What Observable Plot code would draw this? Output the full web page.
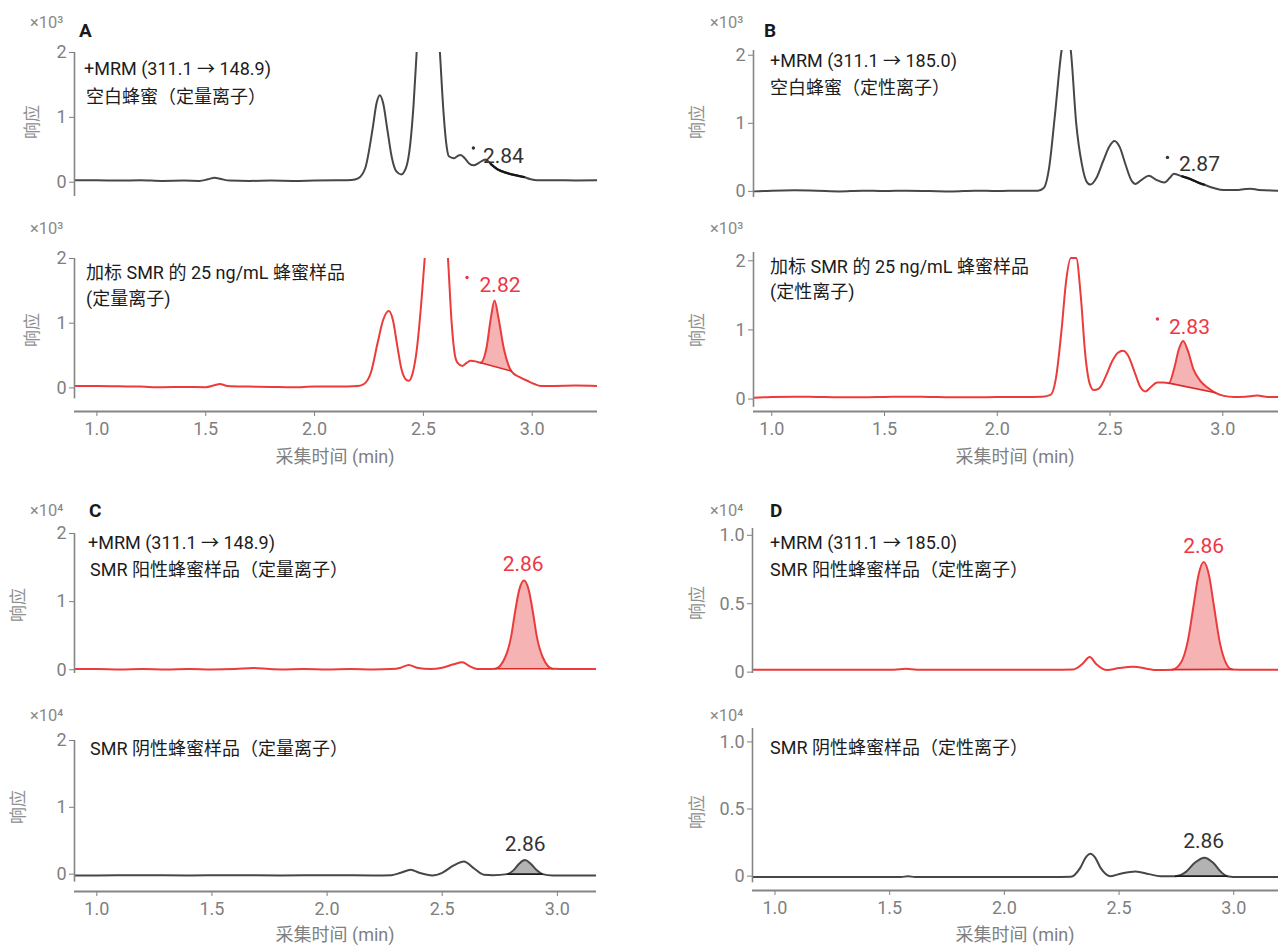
<!DOCTYPE html>
<html lang="zh">
<head>
<meta charset="utf-8">
<title>SMR 蜂蜜样品 MRM 色谱图</title>
<script src="https://cdn.jsdelivr.net/npm/d3@7"></script>
<script src="https://cdn.jsdelivr.net/npm/@observablehq/plot@0.6"></script>
<style>
html,body{margin:0;padding:0;background:#fff;}
#chart{position:relative;width:1280px;height:946px;overflow:hidden;font-family:Roboto,"Noto Sans CJK SC",sans-serif;}
.panel{position:absolute;}
.panel svg{display:block;max-width:none;}
.t{position:absolute;white-space:nowrap;line-height:1;transform:translateY(-50%);}
.note{font-size:18px;color:#1c1c1c;}
.mult{font-size:16.5px;color:#8a8a8a;}
.letter{font-size:19px;font-weight:700;color:#1a1a1a;}
.ylab{font-size:17px;color:#8f8f8f;transform:translate(-50%,-50%) rotate(-90deg);}
.xlab{font-size:18px;color:#808080;transform:translate(-50%,-50%);}
</style>
</head>
<body>
<div id="chart"></div>
<script>
// ---------- axis ticks & labels ----------
const xTicks = [1.0, 1.5, 2.0, 2.5, 3.0];
const xTickLabels = ["1.0", "1.5", "2.0", "2.5", "3.0"];
const yTicksAB = [0, 1, 2];
const yTickLabelsAB = ["0", "1", "2"];
const yTicksC = [0, 1, 2];
const yTickLabelsC = ["0", "1", "2"];
const yTicksD = [0, 0.5, 1.0];
const yTickLabelsD = ["0", "0.5", "1.0"];
const xAxisTitle = "采集时间 (min)";
const yAxisTitle = "响应";
const multipliers = ["×10³", "×10³", "×10⁴", "×10⁴"];
const panelLetters = ["A", "B", "C", "D"];

// ---------- x ranges (min) ----------
const xDomainA = [0.897, 3.30];
const xDomainB = [0.919, 3.247];
const xDomainC = [0.903, 3.17];
const xDomainD = [0.902, 3.195];

// ---------- traces [time (min), response] ----------
// A: +MRM 311.1 -> 148.9, ×10^3
const traceA1 = [[0.897,0.03],[0.95,0.03],[1.0,0.032],[1.1,0.025],[1.2,0.03],[1.3,0.02],[1.4,0.025],[1.47,0.02],[1.51,0.045],[1.54,0.07],[1.57,0.05],[1.61,0.025],[1.7,0.02],[1.8,0.025],[1.9,0.02],[2.0,0.025],[2.1,0.03],[2.17,0.035],[2.20,0.06],[2.233,0.22],[2.267,0.83],[2.285,1.22],[2.300,1.34],[2.315,1.22],[2.335,0.8],[2.355,0.38],[2.375,0.17],[2.398,0.12],[2.42,0.22],[2.44,0.6],[2.455,1.2],[2.469,2.0],[2.49,3.3],[2.52,4.0],[2.55,3.3],[2.576,2.0],[2.592,1.1],[2.605,0.6],[2.617,0.40],[2.640,0.37],[2.655,0.40],[2.671,0.42],[2.69,0.37],[2.71,0.29],[2.732,0.26],[2.755,0.30],[2.786,0.35],[2.81,0.28],[2.840,0.20],[2.886,0.14],[2.92,0.11],[2.962,0.08],[2.99,0.05],[3.023,0.03],[3.1,0.03],[3.2,0.028],[3.30,0.03]];
const traceA2 = [[0.897,0.03],[1.0,0.03],[1.1,0.025],[1.2,0.02],[1.3,0.01],[1.4,0.015],[1.5,0.01],[1.54,0.04],[1.565,0.06],[1.6,0.03],[1.7,0.02],[1.8,0.015],[1.9,0.01],[2.0,0.02],[2.1,0.02],[2.2,0.03],[2.227,0.06],[2.26,0.25],[2.29,0.7],[2.315,1.05],[2.341,1.19],[2.36,1.05],[2.38,0.65],[2.40,0.28],[2.42,0.13],[2.433,0.11],[2.45,0.22],[2.47,0.6],[2.49,1.3],[2.506,2.0],[2.53,3.0],[2.56,3.5],[2.59,3.0],[2.613,2.0],[2.63,1.0],[2.645,0.5],[2.656,0.39],[2.679,0.34],[2.70,0.39],[2.717,0.42],[2.74,0.41],[2.763,0.39],[2.79,0.62],[2.81,1.08],[2.827,1.35],[2.845,1.08],[2.87,0.6],[2.89,0.36],[2.904,0.26],[2.94,0.17],[2.977,0.11],[3.01,0.06],[3.039,0.03],[3.1,0.03],[3.2,0.035],[3.30,0.03]];
// B: +MRM 311.1 -> 185.0, ×10^3
const traceB1 = [[0.919,0.0],[1.0,0.01],[1.1,0.015],[1.2,0.01],[1.3,0.0],[1.4,0.01],[1.5,0.005],[1.6,0.01],[1.7,0.005],[1.8,0.0],[1.9,0.01],[2.0,0.005],[2.1,0.01],[2.18,0.01],[2.206,0.05],[2.23,0.35],[2.255,1.1],[2.285,2.07],[2.305,2.4],[2.326,2.07],[2.35,1.0],[2.375,0.4],[2.395,0.15],[2.413,0.10],[2.44,0.2],[2.47,0.45],[2.497,0.66],[2.520,0.74],[2.543,0.65],[2.57,0.38],[2.595,0.16],[2.613,0.11],[2.64,0.17],[2.672,0.23],[2.705,0.17],[2.741,0.13],[2.765,0.2],[2.783,0.26],[2.82,0.22],[2.857,0.18],[2.89,0.13],[2.916,0.10],[2.96,0.05],[3.004,0.02],[3.06,0.02],[3.1,0.035],[3.123,0.04],[3.16,0.02],[3.247,0.01]];
const traceB2 = [[0.919,0.02],[1.0,0.03],[1.1,0.035],[1.2,0.03],[1.3,0.025],[1.4,0.025],[1.5,0.03],[1.6,0.035],[1.7,0.03],[1.8,0.025],[1.9,0.025],[2.0,0.03],[2.1,0.03],[2.2,0.035],[2.236,0.06],[2.26,0.3],[2.285,1.0],[2.305,1.7],[2.326,2.04],[2.350,2.04],[2.37,1.5],[2.39,0.65],[2.41,0.22],[2.428,0.13],[2.45,0.15],[2.48,0.32],[2.51,0.55],[2.535,0.67],[2.558,0.70],[2.58,0.63],[2.61,0.38],[2.635,0.17],[2.657,0.11],[2.68,0.17],[2.709,0.24],[2.735,0.24],[2.761,0.23],[2.785,0.45],[2.805,0.72],[2.824,0.84],[2.845,0.7],[2.87,0.43],[2.901,0.26],[2.935,0.16],[2.968,0.09],[3.0,0.05],[3.05,0.03],[3.1,0.035],[3.153,0.05],[3.2,0.03],[3.247,0.03]];
// C: +MRM 311.1 -> 148.9, ×10^4
const traceC1 = [[0.903,0.01],[1.0,0.01],[1.1,0.005],[1.2,0.01],[1.3,0.005],[1.4,0.01],[1.5,0.005],[1.6,0.01],[1.68,0.025],[1.75,0.01],[1.8,0.005],[1.9,0.01],[2.0,0.005],[2.1,0.01],[2.2,0.005],[2.28,0.01],[2.32,0.03],[2.355,0.07],[2.39,0.03],[2.45,0.01],[2.5,0.03],[2.55,0.08],[2.587,0.11],[2.62,0.05],[2.652,0.01],[2.7,0.01],[2.73,0.015],[2.773,0.18],[2.80,0.5],[2.814,0.8],[2.835,1.18],[2.855,1.31],[2.875,1.18],[2.896,0.8],[2.91,0.5],[2.937,0.18],[2.98,0.015],[3.05,0.01],[3.1,0.01],[3.17,0.01]];
const traceC2 = [[0.903,-0.02],[1.0,-0.02],[1.2,-0.015],[1.4,-0.02],[1.6,-0.015],[1.8,-0.02],[2.0,-0.015],[2.2,-0.02],[2.28,-0.015],[2.32,0.02],[2.363,0.065],[2.40,0.02],[2.457,-0.02],[2.5,0.02],[2.55,0.13],[2.594,0.19],[2.64,0.08],[2.681,-0.01],[2.72,-0.015],[2.783,0.0],[2.81,0.06],[2.835,0.16],[2.859,0.21],[2.883,0.16],[2.91,0.06],[2.935,0.0],[2.98,-0.02],[3.05,-0.02],[3.17,-0.02]];
// D: +MRM 311.1 -> 185.0, ×10^4
const traceD1 = [[0.902,0.018],[1.0,0.018],[1.2,0.018],[1.4,0.018],[1.52,0.018],[1.57,0.024],[1.62,0.018],[1.8,0.018],[2.0,0.018],[2.2,0.018],[2.30,0.02],[2.34,0.06],[2.372,0.11],[2.40,0.06],[2.448,0.015],[2.50,0.03],[2.564,0.04],[2.62,0.025],[2.666,0.015],[2.731,0.018],[2.77,0.07],[2.80,0.23],[2.826,0.50],[2.845,0.70],[2.869,0.805],[2.893,0.70],[2.912,0.50],[2.94,0.21],[2.965,0.07],[2.993,0.02],[3.05,0.018],[3.195,0.018]];
const traceD2 = [[0.902,-0.007],[1.0,-0.007],[1.2,-0.007],[1.4,-0.007],[1.55,-0.007],[1.58,0.0],[1.61,-0.007],[1.8,-0.007],[2.0,-0.007],[2.2,-0.007],[2.29,-0.005],[2.33,0.06],[2.355,0.14],[2.375,0.167],[2.395,0.14],[2.42,0.06],[2.463,0.0],[2.51,0.02],[2.572,0.035],[2.63,0.015],[2.68,0.0],[2.746,0.0],[2.79,0.03],[2.83,0.10],[2.872,0.137],[2.91,0.10],[2.945,0.03],[2.971,0.0],[3.02,-0.007],[3.195,-0.007]];

// ---------- integration windows (min) & retention-time labels ----------
const windowA1 = [2.81, 2.962], windowA2 = [2.763, 2.904];
const windowB1 = [2.80, 2.93], windowB2 = [2.761, 2.968];
const windowC1 = [2.73, 2.98], windowC2 = [2.783, 2.935];
const windowD1 = [2.731, 2.993], windowD2 = [2.746, 2.971];
const rtA1 = "2.84", rtA2 = "2.82", rtB1 = "2.87", rtB2 = "2.83";
const rtC1 = "2.86", rtC2 = "2.86", rtD1 = "2.86", rtD2 = "2.86";

// ---------- annotation texts ----------
const mrmA = "+MRM (311.1 → 148.9)", mrmB = "+MRM (311.1 → 185.0)";
const noteA1 = "空白蜂蜜（定量离子）", noteB1 = "空白蜂蜜（定性离子）";
const spiked = "加标 SMR 的 25 ng/mL 蜂蜜样品";
const noteA2 = "(定量离子)", noteB2 = "(定性离子)";
const noteC1 = "SMR 阳性蜂蜜样品（定量离子）", noteD1 = "SMR 阳性蜂蜜样品（定性离子）";
const noteC2 = "SMR 阴性蜂蜜样品（定量离子）", noteD2 = "SMR 阴性蜂蜜样品（定性离子）";

// ---------- styles ----------
const GREY = "#474747", RED = "#ec3b3b", DARK = "#333333", REDTXT = "#ee3645";
const PINK = "#f5b3b3", GREYFILL = "#b3b3b3", AXIS = "#858585";

const panels = [
  {left:0, top:0, w:640, h:200, mL:74, mR:43, mT:52, mB:4, xd:xDomainA, yd:[-0.22,2.0], yAxisBottom:-0.22,
   yt:yTicksAB, yl:yTickLabelsAB, trace:traceA1, color:GREY, win:windowA1, fill:null, label:rtA1, lc:DARK, ldx:6, ldy:-8, dot:[-30,-8], xAxis:false},
  {left:0, top:200, w:640, h:270, mL:74, mR:43, mT:58, mB:59, xd:xDomainA, yd:[-0.365,2.0], yAxisBottom:-0.17,
   yt:yTicksAB, yl:yTickLabelsAB, trace:traceA2, color:RED, win:windowA2, fill:PINK, base:"#d92b2b", label:rtA2, lc:REDTXT, ldx:7, ldy:-15, dot:[-33,-8], xAxis:true},
  {left:640, top:0, w:640, h:200, mL:113, mR:2, mT:50, mB:3, xd:xDomainB, yd:[-0.09,2.07], yAxisBottom:-0.09,
   yt:yTicksAB, yl:yTickLabelsAB, trace:traceB1, color:GREY, win:windowB1, fill:null, label:rtB1, lc:DARK, ldx:6, ldy:-12, dot:[-32,-7], xAxis:false},
  {left:640, top:200, w:640, h:270, mL:113, mR:2, mT:52, mB:59, xd:xDomainB, yd:[-0.18,2.12], yAxisBottom:-0.12,
   yt:yTicksAB, yl:yTickLabelsAB, trace:traceB2, color:RED, win:windowB2, fill:PINK, base:"#d92b2b", label:rtB2, lc:REDTXT, ldx:5, ldy:-14, dot:[-32,-8], xAxis:true},
  {left:0, top:480, w:640, h:200, mL:74, mR:44, mT:53, mB:7, xd:xDomainC, yd:[-0.055,2.0], yAxisBottom:-0.055,
   yt:yTicksC, yl:yTickLabelsC, trace:traceC1, color:RED, win:windowC1, fill:PINK, base:"#e02a2a", label:rtC1, lc:REDTXT, ldx:-2, ldy:-16, dot:null, xAxis:false},
  {left:0, top:680, w:640, h:266, mL:74, mR:44, mT:60, mB:55, xd:xDomainC, yd:[-0.26,2.0], yAxisBottom:-0.12,
   yt:yTicksC, yl:yTickLabelsC, trace:traceC2, color:GREY, win:windowC2, fill:GREYFILL, base:"#1c1c1c", label:rtC2, lc:DARK, ldx:0, ldy:-16, dot:null, xAxis:true},
  {left:640, top:480, w:640, h:200, mL:112, mR:2, mT:48, mB:7, xd:xDomainD, yd:[-0.01,1.05], yAxisBottom:-0.01,
   yt:yTicksD, yl:yTickLabelsD, trace:traceD1, color:RED, win:windowD1, fill:PINK, base:"#e02a2a", label:rtD1, lc:REDTXT, ldx:2, ldy:-16, dot:null, xAxis:false},
  {left:640, top:680, w:640, h:266, mL:112, mR:2, mT:48, mB:56, xd:xDomainD, yd:[-0.107,1.10], yAxisBottom:-0.05,
   yt:yTicksD, yl:yTickLabelsD, trace:traceD2, color:GREY, win:windowD2, fill:GREYFILL, base:"#1c1c1c", label:rtD2, lc:DARK, ldx:2, ldy:-16, dot:null, xAxis:true}
];

const chart = document.getElementById("chart");

function drawPanel(c) {
  const pts = c.trace.map(([t, v]) => ({t, v}));
  const win = pts.filter(d => d.t >= c.win[0] && d.t <= c.win[1]);
  const ends = [win[0], win[win.length - 1]];
  const top = win.reduce((a, b) => (b.v > a.v ? b : a));
  const anchor = [{t: +c.label, v: top.v, text: c.label}];
  const marks = [];
  if (c.fill) marks.push(Plot.line(win, {x: "t", y: "v", curve: "monotone-x", fill: c.fill, stroke: "none"}));
  marks.push(Plot.line(pts, {x: "t", y: "v", curve: "monotone-x", stroke: c.color, strokeWidth: 2, clip: true}));
  if (c.fill) {
    marks.push(Plot.line(ends, {x: "t", y: "v", stroke: c.base, strokeWidth: 1.6}));
  } else {
    marks.push(Plot.line(win, {x: "t", y: "v", curve: "monotone-x", stroke: "#161616", strokeWidth: 2.3}));
  }
  marks.push(Plot.ruleX([c.xd[0]], {y1: c.yAxisBottom, y2: c.yd[1], stroke: AXIS, strokeWidth: 1.6}));
  if (c.xAxis) marks.push(Plot.ruleY([c.yd[0]], {stroke: AXIS, strokeWidth: 2}));
  marks.push(Plot.text(anchor, {x: "t", y: "v", text: "text", dx: c.ldx, dy: c.ldy, fill: c.lc,
    fontSize: 21, fontFamily: "Roboto, sans-serif", textAnchor: "middle"}));
  if (c.dot) marks.push(Plot.dot(anchor, {x: "t", y: "v", dx: c.ldx + c.dot[0], dy: c.ldy + c.dot[1], r: 1.7, fill: c.lc, stroke: "none"}));

  const svg = Plot.plot({
    width: c.w, height: c.h,
    marginLeft: c.mL, marginRight: c.mR, marginTop: c.mT, marginBottom: c.mB,
    style: {fontFamily: "Roboto, 'Noto Sans CJK SC', sans-serif", fontSize: "18px", color: "#7f7f7f", background: "transparent", overflow: "visible"},
    x: {domain: c.xd, ticks: xTicks, tickFormat: d => xTickLabels[xTicks.indexOf(d)], tickSize: 5, tickPadding: 6,
        label: null, axis: c.xAxis ? "bottom" : null},
    y: {domain: c.yd, ticks: c.yt, tickFormat: d => c.yl[c.yt.indexOf(d)], tickSize: 5, tickPadding: 3, label: null},
    marks
  });
  const div = document.createElement("div");
  div.className = "panel";
  div.style.left = c.left + "px";
  div.style.top = c.top + "px";
  div.style.width = c.w + "px";
  div.style.height = c.h + "px";
  div.appendChild(svg);
  chart.appendChild(div);
}
panels.forEach(drawPanel);

function addText(text, x, y, cls) {
  const el = document.createElement("div");
  el.className = "t " + cls;
  el.style.left = x + "px";
  el.style.top = y + "px";
  el.textContent = text;
  chart.appendChild(el);
}
// multipliers & panel letters
addText(multipliers[0], 30, 23, "mult"); addText(multipliers[0], 30, 229, "mult");
addText(multipliers[1], 710, 23, "mult"); addText(multipliers[1], 710, 229, "mult");
addText(multipliers[2], 30, 511, "mult"); addText(multipliers[2], 30, 716, "mult");
addText(multipliers[3], 710, 511, "mult"); addText(multipliers[3], 710, 716, "mult");
addText(panelLetters[0], 79, 30, "letter");
addText(panelLetters[1], 764, 30, "letter");
addText(panelLetters[2], 89, 510, "letter");
addText(panelLetters[3], 770, 510, "letter");
// notes
addText(mrmA, 84, 69, "note"); addText(noteA1, 86, 97, "note");
addText(spiked, 86, 273, "note"); addText(noteA2, 86, 299, "note");
addText(mrmB, 770, 61, "note"); addText(noteB1, 770, 88, "note");
addText(spiked, 770, 267, "note"); addText(noteB2, 770, 292, "note");
addText(mrmA, 88, 543, "note"); addText(noteC1, 90, 570, "note");
addText(noteC2, 90, 749, "note");
addText(mrmB, 770, 543, "note"); addText(noteD1, 770, 570, "note");
addText(noteD2, 770, 748, "note");
// y axis titles
[[32,122],[32,330],[697,122],[697,330],[18,605],[18,807],[697,603],[697,812]].forEach(([x,y]) => addText(yAxisTitle, x, y, "ylab"));
// x axis titles
[[335,457],[1015,457],[335,935],[1015,935]].forEach(([x,y]) => addText(xAxisTitle, x, y, "xlab"));
</script>
</body>
</html>
